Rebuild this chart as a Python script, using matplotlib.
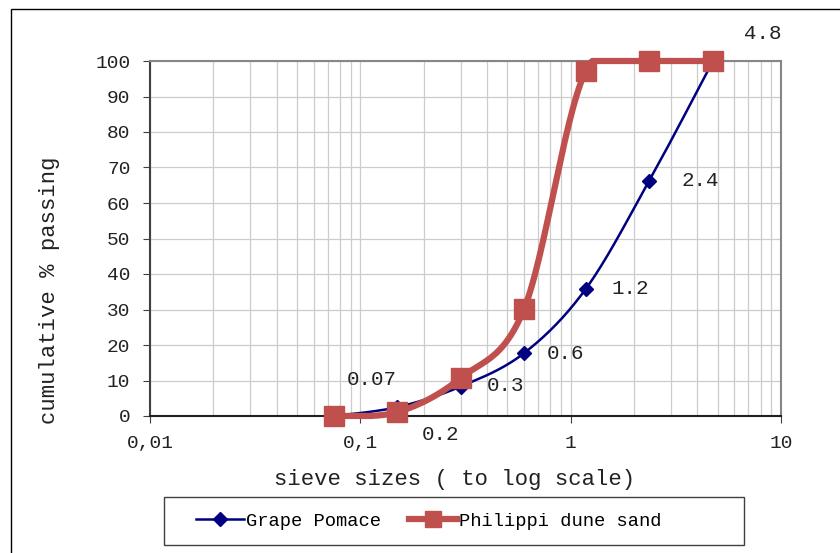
import numpy as np
import matplotlib.pyplot as plt
from matplotlib.patches import Rectangle
from matplotlib.ticker import FixedLocator, FixedFormatter, LogLocator, NullFormatter

# sieve openings (mm) and cumulative % passing
sieve = [0.075, 0.15, 0.3, 0.6, 1.18, 2.36, 4.75]
grape = [0.0, 2.5, 8.3, 17.7, 35.8, 66.2, 100.0]
sand = [0.0, 1.1, 10.7, 30.1, 97.2, 100.0, 100.0]
size_labels = ["0.07", "0.2", "0.3", "0.6", "1.2", "2.4", "4.8"]
label_offsets = [(27, 26), (31, -20), (32, 1), (30, 0), (32, 0), (37, 0), (36, 20)]


def smooth(x, y, n=30):
    """Catmull-Rom curve through the points, in log-x space."""
    lx = np.log10(x)
    pts = np.column_stack([lx, y])
    pts = np.vstack([pts[0], pts, pts[-1]])
    out = []
    for i in range(1, len(pts) - 2):
        p0, p1, p2, p3 = pts[i - 1], pts[i], pts[i + 1], pts[i + 2]
        t = np.linspace(0, 1, n)[:, None]
        seg = 0.5 * ((2 * p1) + (-p0 + p2) * t +
                     (2 * p0 - 5 * p1 + 4 * p2 - p3) * t ** 2 +
                     (-p0 + 3 * p1 - 3 * p2 + p3) * t ** 3)
        out.append(seg)
    out = np.vstack(out)
    # percentages can't leave 0..100
    return 10 ** out[:, 0], np.clip(out[:, 1], 0, 100)


plt.rcParams['font.family'] = ['Liberation Mono', 'DejaVu Sans Mono']
plt.rcParams['font.size'] = 14

fig = plt.figure(figsize=(8.4, 5.53), dpi=100)
ax = fig.add_axes([150 / 840, 1 - 416 / 553, 631 / 840, 355 / 553])

gx, gy = smooth(sieve, grape)
sx, sy = smooth(sieve, sand)
ax.plot(gx, gy, color="#000080", lw=1.8, zorder=3, clip_on=False)
ax.plot(sieve, grape, ls="none", marker="D", ms=7, color="#000080",
        zorder=4, clip_on=False)
ax.plot(sx, sy, color="#C0504D", lw=4.5, zorder=5, clip_on=False)
ax.plot(sieve, sand, ls="none", marker="s", ms=14, color="#C0504D",
        zorder=6, clip_on=False)

for x, y, txt, off in zip(sieve, grape, size_labels, label_offsets):
    ax.annotate(txt, (x, y), xytext=off, textcoords="offset points",
                ha="center", va="center", fontsize=15, color="#222222")

ax.set_xscale("log")
ax.set_xlim(0.01, 10)
ax.set_ylim(0, 100)
ax.xaxis.set_major_locator(FixedLocator([0.01, 0.1, 1, 10]))
ax.xaxis.set_major_formatter(FixedFormatter(["0,01", "0,1", "1", "10"]))
ax.xaxis.set_minor_locator(LogLocator(base=10, subs=np.arange(2, 10)))
ax.xaxis.set_minor_formatter(NullFormatter())
ax.set_yticks(np.arange(0, 101, 10))

ax.grid(True, which="both", axis="x", color="#cccccc", lw=0.9)
ax.grid(True, which="major", axis="y", color="#cccccc", lw=0.9)
ax.set_axisbelow(True)

ax.tick_params(axis="both", which="major", direction="out", length=5,
               color="#404040", labelcolor="#222222", labelsize=14)
ax.tick_params(axis="x", which="minor", length=0)
ax.tick_params(axis="x", pad=9)
ax.tick_params(axis="y", pad=9)
for side in ("top", "right"):
    ax.spines[side].set_color("#868686")
    ax.spines[side].set_linewidth(1.5)
ax.spines["left"].set_color("#404040")
ax.spines["left"].set_linewidth(1.5)
ax.spines["bottom"].set_color("#202020")
ax.spines["bottom"].set_linewidth(1.5)

fig.text(455 / 840, 1 - 479 / 553, "sieve sizes ( to log scale)",
         ha="center", va="center", fontsize=16, color="#222222")
fig.text(50 / 840, 1 - 290 / 553, "cumulative % passing", rotation=90,
         ha="center", va="center", fontsize=16, color="#222222")

h1, = ax.plot([], [], color="#000080", lw=1.8, marker="D", ms=7)
h2, = ax.plot([], [], color="#C0504D", lw=4.5, marker="s", ms=11)
leg = fig.legend([h1, h2], ["Grape Pomace", "Philippi dune sand"],
                 loc="center", bbox_to_anchor=(429 / 840, 1 - 521 / 553),
                 ncol=2, frameon=False, fontsize=13.5,
                 handlelength=2.55, handletextpad=0.1, columnspacing=1.5,
                 borderpad=0, borderaxespad=0)

# legend box and outer chart border
fig.patches.append(Rectangle((164 / 840, 1 - 545 / 553), 580 / 840, 48 / 553,
                             transform=fig.transFigure, fill=False,
                             edgecolor="#404040", lw=1))
fig.patches.append(Rectangle((11 / 840, -0.05), 1.0, 1 - 9 / 553 + 0.05,
                             transform=fig.transFigure, fill=False,
                             edgecolor="#000000", lw=1))

fig.savefig("out.png", dpi=100)
